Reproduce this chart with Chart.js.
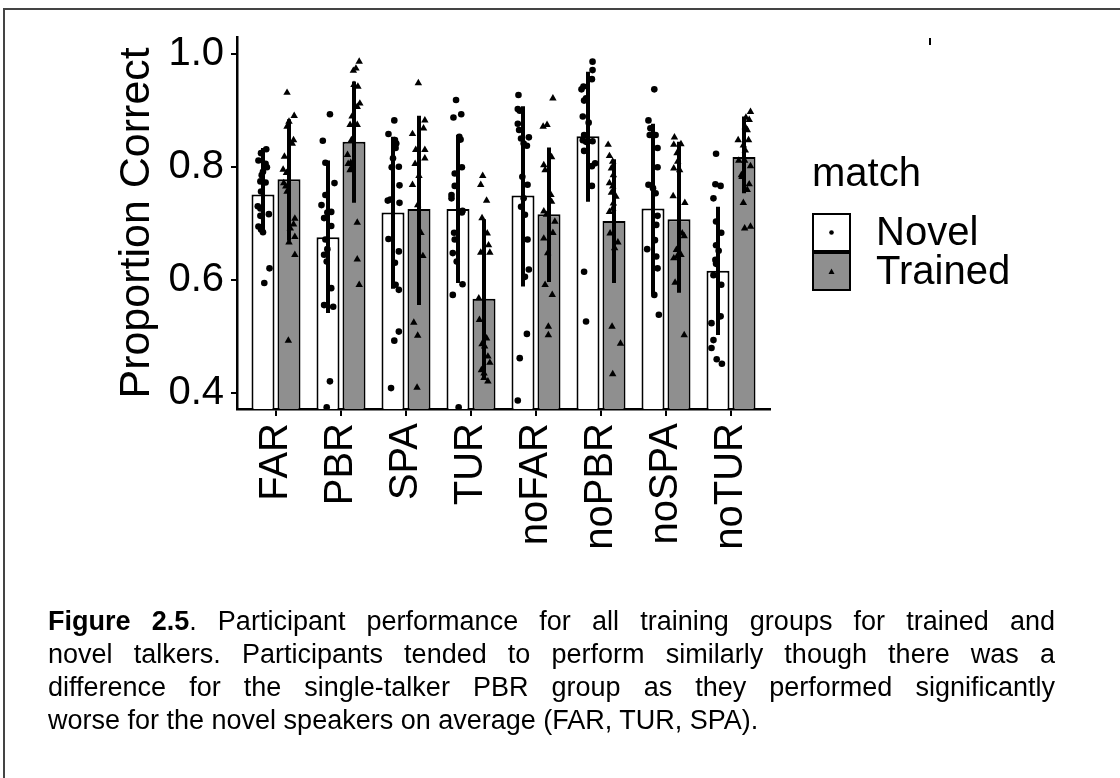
<!DOCTYPE html>
<html>
<head>
<meta charset="utf-8">
<script src="https://cdn.jsdelivr.net/npm/chart.js@4.4.1/dist/chart.umd.min.js"></script>
<style>
  body { margin: 0; background: #fff; overflow: hidden; }
  #wrap { position: relative; width: 1120px; height: 778px; }
  #frame { position: absolute; left: 3px; top: 8px; width: 1200px; height: 900px;
           border-left: 2px solid #444; border-top: 2px solid #444; }
  #myChart { position: absolute; left: 0; top: 0; }
  #caption { position: absolute; left: 48px; top: 605px; width: 1007px;
             font-family: 'Liberation Sans', Arial, sans-serif; font-size: 27px;
             line-height: 33px; color: #000; }
  #caption .full { text-align: justify; text-align-last: justify; white-space: nowrap; }
  #caption .last { text-align: left; white-space: nowrap; }
</style>
</head>
<body>
<div id="wrap">
  <div id="frame"></div>
  <canvas id="myChart" width="1120" height="778"></canvas>
  <div id="caption">
    <div class="full"><b>Figure 2.5</b>. Participant performance for all training groups for trained and</div>
    <div class="full">novel talkers. Participants tended to perform similarly though there was a</div>
    <div class="full">difference for the single-talker PBR group as they performed significantly</div>
    <div class="last">worse for the novel speakers on average (FAR, TUR, SPA).</div>
  </div>
</div>
<script>
var groups = ['FAR', 'PBR', 'SPA', 'TUR', 'noFAR', 'noPBR', 'noSPA', 'noTUR'];
var yTicks = [0.4, 0.6, 0.8, 1.0];

// group means
var novelMean   = [0.752, 0.676, 0.720, 0.726, 0.750, 0.855, 0.727, 0.617];
var trainedMean = [0.779, 0.845, 0.726, 0.567, 0.717, 0.705, 0.708, 0.818];

// error bar ends
var novelLo   = [0.683, 0.542, 0.585, 0.595, 0.589, 0.739, 0.575, 0.503];
var novelHi   = [0.834, 0.812, 0.854, 0.857, 0.908, 0.969, 0.877, 0.730];
var trainedLo = [0.670, 0.737, 0.556, 0.425, 0.597, 0.595, 0.578, 0.754];
var trainedHi = [0.885, 0.952, 0.891, 0.708, 0.835, 0.814, 0.845, 0.890];

// participants: [jitter, score] per group
var novelPts = [
  [[.05,.832],[-.03,.825],[-.07,.812],[.04,.806],[.06,.800],[0,.792],[-.02,.786],[-.04,.775],[.04,.773],[-.03,.757],[-.08,.731],[-.04,.727],[.09,.717],[-.04,.714],[-.07,.695],[-.03,.690],[0,.685],[.10,.621],[.02,.595]],
  [[.03,.894],[-.08,.847],[-.04,.808],[.10,.772],[-.04,.751],[-.10,.733],[.05,.721],[-.01,.720],[-.06,.710],[.05,.696],[-.04,.672],[-.01,.655],[-.06,.645],[-.02,.633],[.05,.586],[-.06,.556],[.08,.553],[.03,.421],[-.02,.375]],
  [[.02,.883],[-.07,.859],[.03,.848],[.05,.842],[.04,.834],[0,.816],[.09,.801],[-.02,.800],[.10,.768],[-.04,.743],[-.08,.741],[.10,.737],[-.07,.673],[.09,.651],[.03,.631],[.04,.592],[.09,.583],[.09,.509],[.02,.493],[-.03,.409]],
  [[-.03,.919],[.05,.894],[-.07,.888],[.02,.854],[.04,.849],[.06,.800],[-.05,.789],[-.05,.767],[-.10,.751],[-.10,.745],[.07,.723],[.06,.720],[-.06,.684],[-.05,.672],[-.08,.648],[-.02,.633],[.07,.593],[-.08,.574],[.01,.375]],
  [[-.07,.928],[-.08,.903],[-.05,.900],[-.08,.877],[-.06,.866],[.09,.853],[-.03,.851],[.01,.842],[.06,.838],[-.01,.783],[.07,.769],[.01,.745],[-.03,.730],[.03,.716],[.07,.672],[.09,.619],[.03,.606],[.06,.505],[-.05,.462],[-.08,.387]],
  [[.07,.987],[.07,.972],[.06,.956],[-.07,.943],[-.10,.938],[-.03,.922],[-.06,.918],[-.08,.890],[.01,.879],[-.06,.857],[-.08,.848],[-.03,.845],[.07,.846],[-.06,.829],[.11,.807],[.06,.802],[.06,.767],[-.06,.615],[-.03,.527]],
  [[.02,.938],[-.07,.883],[-.04,.869],[-.05,.857],[.04,.857],[.07,.834],[.07,.800],[-.07,.769],[0,.763],[.04,.754],[.07,.714],[.05,.698],[.03,.671],[-.09,.655],[.05,.642],[.07,.621],[.02,.574],[.09,.539]],
  [[-.03,.824],[-.04,.770],[.04,.767],[-.07,.745],[-.03,.704],[.05,.684],[-.03,.662],[.01,.652],[-.04,.636],[-.03,.629],[-.07,.609],[.05,.592],[.04,.536],[-.10,.524],[-.07,.494],[-.10,.480],[-.02,.460],[.06,.452]]
];
var trainedPts = [
  [[-.03,.932],[.08,.891],[0,.881],[-.03,.872],[.07,.848],[.05,.842],[-.07,.819],[-.09,.796],[-.04,.790],[-.08,.772],[-.05,.766],[-.03,.757],[.09,.709],[.07,.699],[.02,.692],[.09,.677],[0,.667],[.09,.645],[-.01,.493]],
  [[.08,.987],[.03,.975],[-.01,.971],[0,.946],[.06,.943],[.09,.913],[.05,.907],[-.03,.890],[-.06,.875],[.05,.875],[-.04,.848],[-.10,.822],[-.05,.808],[-.09,.806],[-.04,.798],[-.06,.795],[.05,.702],[.05,.637],[.08,.592]],
  [[-.01,.949],[.09,.883],[.07,.869],[-.10,.859],[-.05,.831],[.09,.831],[.09,.816],[-.06,.806],[0,.785],[-.10,.769],[-.02,.733],[.03,.684],[.06,.643],[-.08,.525],[-.02,.502],[-.03,.410]],
  [[-.02,.785],[-.05,.769],[.04,.741],[-.03,.710],[.05,.683],[.07,.662],[-.05,.649],[.09,.649],[-.08,.568],[-.07,.530],[.04,.497],[-.03,.487],[.01,.483],[.06,.465],[.09,.454],[-.04,.441],[0,.435],[0,.427],[.06,.421]],
  [[.06,.922],[-.03,.875],[-.09,.872],[.04,.818],[-.08,.804],[-.06,.795],[.03,.751],[.04,.739],[-.08,.722],[-.04,.716],[.09,.704],[.06,.684],[-.08,.674],[-.02,.648],[-.06,.592],[.05,.574],[-.01,.518],[-.01,.503]],
  [[-.09,.840],[-.07,.820],[-.02,.810],[-.04,.798],[-.01,.786],[-.07,.772],[-.02,.766],[-.04,.755],[.03,.748],[-.01,.736],[-.02,.727],[-.07,.721],[-.06,.683],[.06,.667],[.01,.657],[-.03,.518],[.10,.488],[-.02,.434]],
  [[-.07,.853],[.03,.841],[-.08,.840],[-.03,.825],[-.02,.810],[-.08,.798],[.01,.795],[-.09,.749],[.09,.737],[.05,.683],[.08,.678],[-.04,.654],[.03,.645],[-.03,.642],[-.08,.639],[-.06,.596],[.08,.503]],
  [[.10,.898],[.03,.888],[.08,.884],[.02,.871],[.05,.866],[-.09,.848],[.07,.848],[-.01,.839],[.02,.830],[-.08,.812],[.01,.812],[.10,.802],[-.04,.786],[-.03,.783],[.08,.770],[.05,.760],[-.01,.737],[.01,.692],[.10,.695]]
];

var FONT = "'Liberation Sans', Arial, Helvetica, sans-serif";
var GREY = '#8f8f8f';
var DODGE = 0.2;

Chart.defaults.font.family = FONT;
Chart.defaults.color = '#000';

function barData(means) {
  return means.map(function (v, i) { return {x: i, y: v}; });
}
function pointData(pts, shift) {
  var out = [];
  pts.forEach(function (grp, i) {
    grp.forEach(function (p) { out.push({x: i + shift + p[0], y: p[1]}); });
  });
  return out;
}
function errData() {
  var out = [];
  groups.forEach(function (g, i) {
    out.push({x: i - DODGE, y: novelLo[i]}, {x: i - DODGE, y: novelHi[i]}, {x: i - DODGE, y: null});
    out.push({x: i + DODGE, y: trainedLo[i]}, {x: i + DODGE, y: trainedHi[i]}, {x: i + DODGE, y: null});
  });
  return out;
}

// legend on the right, plus the little stray tick near the top
var sideLegend = {
  id: 'sideLegend',
  afterDraw: function (chart) {
    var ctx = chart.ctx;
    ctx.save();
    ctx.fillStyle = '#000';
    ctx.font = '40px ' + FONT;
    ctx.textBaseline = 'alphabetic';
    ctx.fillText('match', 812, 186);

    var keys = [
      {label: 'Novel', fill: '#fff', mark: 'dot'},
      {label: 'Trained', fill: GREY, mark: 'tri'}
    ];
    keys.forEach(function (k, n) {
      var x = 813, y = 214 + n * 39, s = 37;
      ctx.fillStyle = k.fill;
      ctx.fillRect(x, y, s, s);
      ctx.lineWidth = 2;
      ctx.strokeStyle = '#000';
      ctx.strokeRect(x, y, s, s);
      ctx.fillStyle = '#000';
      var cx = x + s / 2, cy = y + s / 2;
      if (k.mark === 'dot') {
        ctx.beginPath(); ctx.arc(cx, cy, 2.3, 0, Math.PI * 2); ctx.fill();
      } else {
        ctx.beginPath(); ctx.moveTo(cx, cy - 3); ctx.lineTo(cx + 3, cy + 2.5); ctx.lineTo(cx - 3, cy + 2.5); ctx.closePath(); ctx.fill();
      }
      ctx.textBaseline = 'middle';
      ctx.fillText(k.label, 876, cy + 1);
    });

    ctx.fillRect(929, 38, 2, 7);
    ctx.restore();
  }
};

var ctx = document.getElementById('myChart');
var myChart = new Chart(ctx, {
  type: 'bar',
  data: {
    datasets: [
      {
        type: 'scatter', label: 'Novel pts', data: pointData(novelPts, -DODGE),
        pointStyle: 'circle', pointRadius: 3.3, backgroundColor: '#000', borderWidth: 0, order: 0
      },
      {
        type: 'scatter', label: 'Trained pts', data: pointData(trainedPts, DODGE),
        pointStyle: 'triangle', pointRadius: 4.3, backgroundColor: '#000', borderWidth: 0, order: 0
      },
      {
        type: 'line', label: 'err', data: errData(), spanGaps: false,
        borderColor: '#000', borderWidth: 4, pointRadius: 0, order: 1
      },
      {
        label: 'Novel', data: barData(novelMean), backgroundColor: '#fff',
        borderColor: '#000', borderWidth: 2, borderSkipped: false,
        categoryPercentage: 0.8, barPercentage: 0.885, clip: 0, order: 2
      },
      {
        label: 'Trained', data: barData(trainedMean), backgroundColor: GREY,
        borderColor: '#000', borderWidth: 2, borderSkipped: false,
        categoryPercentage: 0.8, barPercentage: 0.885, clip: 0, order: 2
      }
    ]
  },
  options: {
    responsive: false,
    animation: false,
    layout: { padding: { left: 100, top: 36.8, right: 350, bottom: 169 } },
    plugins: { legend: { display: false }, tooltip: { enabled: false } },
    scales: {
      x: {
        type: 'linear', min: -0.6, max: 7.6, offset: false,
        afterBuildTicks: function (s) { s.ticks = groups.map(function (g, i) { return {value: i}; }); },
        afterFit: function (s) { s.height = 200; },
        grid: { display: true, offset: false, drawOnChartArea: false, color: '#000', lineWidth: 2, tickLength: 7 },
        border: { display: true, color: '#000', width: 2.5 },
        ticks: {
          autoSkip: false, minRotation: 90, maxRotation: 90, padding: 7,
          font: { size: 40 }, color: '#000',
          callback: function (v) { return groups[v]; }
        }
      },
      y: {
        min: 0.372, max: 1.031,
        afterBuildTicks: function (s) { s.ticks = yTicks.map(function (v) { return {value: v}; }); },
        afterFit: function (s) { s.width = 137; },
        grid: { display: true, drawOnChartArea: false, color: '#000', lineWidth: 2, tickLength: 6 },
        border: { display: true, color: '#000', width: 2.5 },
        ticks: {
          padding: 7, font: { size: 40 }, color: '#000',
          callback: function (v) { return v.toFixed(1); }
        },
        title: {
          display: true, text: 'Proportion Correct', color: '#000',
          font: { size: 43 }, padding: { top: 11, bottom: 0 }
        }
      }
    }
  },
  plugins: [sideLegend]
});
</script>
</body>
</html>
